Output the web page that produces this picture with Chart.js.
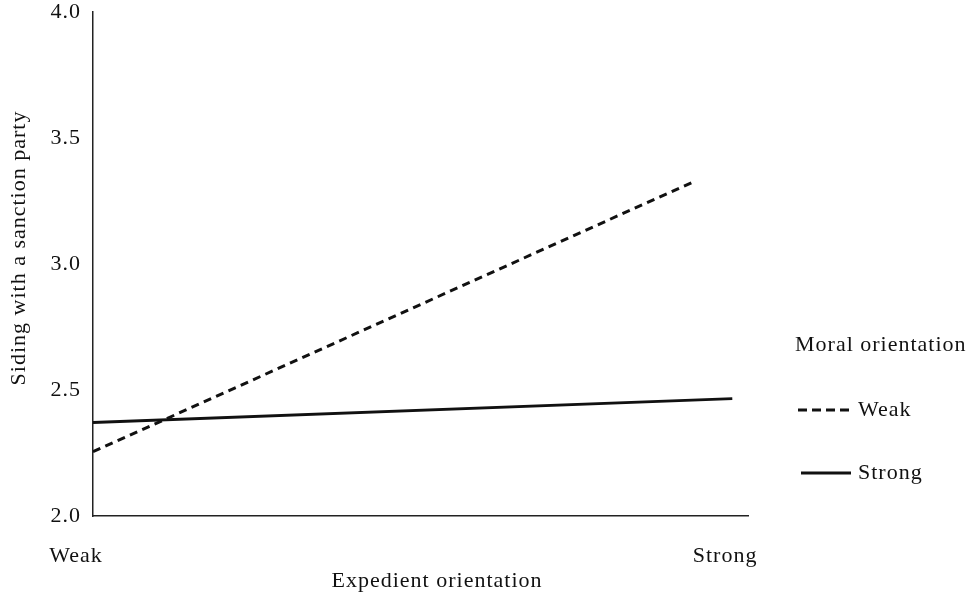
<!DOCTYPE html>
<html>
<head>
<meta charset="utf-8">
<script src="https://cdn.jsdelivr.net/npm/chart.js@4.4.1/dist/chart.umd.min.js"></script>
<style>
  html, body { margin: 0; padding: 0; background: #fff; }
  #wrap { width: 973px; height: 603px; }
</style>
</head>
<body>
<div id="wrap"><canvas id="chart" width="973" height="603"></canvas></div>
<script>
// data
const xCategories = ["Weak", "Strong"];
const xCategoryPos = [-0.026, 0.965];   // where the category labels sit on the x scale
const seriesNames = ["Weak", "Strong"];
const weakX = [0, 0.914];
const weakY = [2.255, 3.323];
const strongX = [0, 0.976];
const strongY = [2.371, 2.466];
const yTicks = [2.0, 2.5, 3.0, 3.5, 4.0];

const FONT = "'Liberation Serif', 'DejaVu Serif', serif";
const INK = "#111";

function pts(xs, ys) {
    return xs.map((x, i) => ({ x: x, y: ys[i] }));
}

// Garamond-ish width: a little letter spacing on everything
const spacing = {
    id: "spacing",
    beforeDraw(chart) { chart.ctx.letterSpacing = "1px"; }
};

// draws x category labels, axis titles and the legend
const decor = {
    id: "decor",
    afterDraw(chart) {
        const ctx = chart.ctx;
        const area = chart.chartArea;
        const xs = chart.scales.x;
        ctx.save();
        ctx.fillStyle = INK;
        ctx.font = "22px " + FONT;
        ctx.textAlign = "center";
        ctx.textBaseline = "middle";
        xCategories.forEach((c, i) => {
            ctx.fillText(c, xs.getPixelForValue(xCategoryPos[i]), area.bottom + 40);
        });
        ctx.fillText("Expedient orientation", 437, area.bottom + 65);

        // y title
        ctx.save();
        ctx.translate(19, 248);
        ctx.rotate(-Math.PI / 2);
        ctx.fillText("Siding with a sanction party", 0, 0);
        ctx.restore();

        // legend
        ctx.textAlign = "left";
        ctx.fillText("Moral orientation", 795, 345);
        ctx.strokeStyle = INK;
        ctx.lineWidth = 2.8;
        ctx.setLineDash([9, 5]);
        ctx.beginPath(); ctx.moveTo(798, 410); ctx.lineTo(852, 410); ctx.stroke();
        ctx.setLineDash([]);
        ctx.beginPath(); ctx.moveTo(801, 473); ctx.lineTo(851, 473); ctx.stroke();
        ctx.fillText(seriesNames[0], 858, 410);
        ctx.fillText(seriesNames[1], 858, 473);
        ctx.restore();
    }
};

new Chart(document.getElementById("chart"), {
    type: "line",
    data: {
        datasets: [
            {
                label: seriesNames[0],
                data: pts(weakX, weakY),
                borderColor: INK,
                borderWidth: 3,
                borderDash: [8, 5.5],
                pointRadius: 0,
                tension: 0
            },
            {
                label: seriesNames[1],
                data: pts(strongX, strongY),
                borderColor: INK,
                borderWidth: 2.8,
                pointRadius: 0,
                tension: 0
            }
        ]
    },
    options: {
        responsive: false,
        animation: false,
        layout: { padding: { top: 12, right: 225, bottom: 87, left: 0 } },
        plugins: { legend: { display: false }, tooltip: { enabled: false } },
        scales: {
            x: {
                type: "linear",
                min: 0,
                max: 1,
                grid: { display: false },
                border: { display: true, color: "#222", width: 1.5 },
                ticks: { display: false },
                afterFit(s) { s.height = 0; }
            },
            y: {
                min: 2,
                max: 4,
                grid: { display: false, drawTicks: false, tickLength: 0 },
                border: { display: true, color: "#222", width: 1.5 },
                afterBuildTicks(s) { s.ticks = yTicks.map(v => ({ value: v })); },
                ticks: {
                    color: INK,
                    padding: 12,
                    font: { family: FONT, size: 22 },
                    callback: v => v.toFixed(1)
                },
                afterFit(s) { s.width = 93; s.paddingTop = 0; s.paddingBottom = 0; }
            }
        }
    },
    plugins: [spacing, decor]
});
</script>
</body>
</html>
